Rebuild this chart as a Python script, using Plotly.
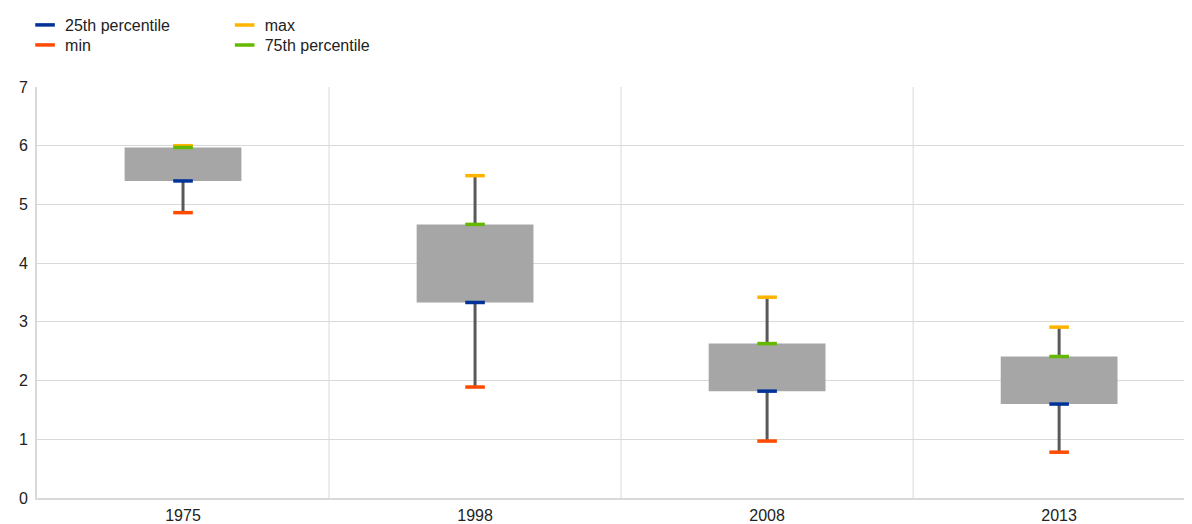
import plotly.graph_objects as go

years = ["1975", "1998", "2008", "2013"]
p_min = [4.86, 1.89, 0.97, 0.78]
p25 = [5.40, 3.33, 1.82, 1.60]
p75 = [5.97, 4.66, 2.63, 2.41]
p_max = [6.00, 5.49, 3.42, 2.91]

FONT = "Liberation Sans, Arial, sans-serif"
fig = go.Figure()

# box body (25th to 75th)
fig.add_trace(go.Bar(
    x=years, y=[b - a for a, b in zip(p25, p75)], base=p25, width=0.4,
    marker=dict(color="#A6A6A6", line=dict(width=0)), showlegend=False,
    hoverinfo="skip"))

# whiskers
wx, wy = [], []
for i, yr in enumerate(years):
    wx += [yr, yr, None, yr, yr, None]
    wy += [p_min[i], p25[i], None, p75[i], p_max[i], None]
fig.add_trace(go.Scatter(x=wx, y=wy, mode="lines", line=dict(color="#595959", width=3),
                         showlegend=False, hoverinfo="skip", connectgaps=False))

def dash(vals, name, color, legend):
    fig.add_trace(go.Scatter(
        x=years, y=vals, mode="markers", name=name, legend=legend,
        marker=dict(symbol="line-ew", size=14, color=color,
                    line=dict(color=color, width=3.5))))

dash(p25, "25th percentile", "#003299", "legend")
dash(p_min, "min", "#FF4B00", "legend2")
dash(p_max, "max", "#FFB400", "legend3")
dash(p75, "75th percentile", "#65B800", "legend4")

legend_common = dict(orientation="v", yanchor="top", xanchor="left",
                     yref="container", xref="container",
                     font=dict(family=FONT, size=16, color="#222"),
                     bgcolor="rgba(0,0,0,0)", tracegroupgap=0, itemwidth=30)

col1, col2 = 0.0144, 0.183
row1, row2 = 1.0, 0.9612

fig.update_layout(
    width=1184, height=516,
    margin=dict(l=29, r=0, t=79, b=26, autoexpand=False),
    plot_bgcolor="white", paper_bgcolor="white",
    font=dict(family=FONT, size=16, color="#222"),
    showlegend=True,
    legend=dict(x=col1, y=row1, **legend_common),
    legend2=dict(x=col1, y=row2, **legend_common),
    legend3=dict(x=col2, y=row1, **legend_common),
    legend4=dict(x=col2, y=row2, **legend_common),
    bargap=0.6,
)
fig.update_xaxes(
    type="category", range=[-0.5, 3.455], showgrid=False, automargin=False,
    showline=True, linecolor="#D9D9D9", linewidth=2,
    ticks="", ticklabelstandoff=2, tickfont=dict(family=FONT, size=16, color="#222"),
)
fig.update_yaxes(
    range=[0, 7], dtick=1, showgrid=True, gridcolor="#D9D9D9", gridwidth=1,
    showline=True, linecolor="#D9D9D9", linewidth=2, zeroline=False, automargin=False,
    ticks="", ticklabelstandoff=4, tickfont=dict(family=FONT, size=16, color="#222"),
)
# vertical separators between categories
for xv in [0.5, 1.5, 2.5]:
    fig.add_shape(type="line", xref="x", yref="paper", x0=xv, x1=xv, y0=0, y1=1,
                  line=dict(color="#D9D9D9", width=1), layer="below")

fig.write_html("out.html")
